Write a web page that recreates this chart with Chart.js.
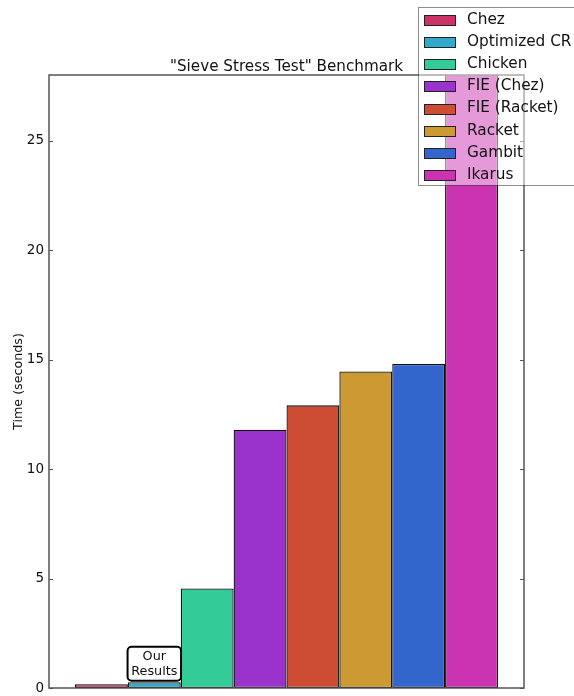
<!DOCTYPE html>
<html>
<head>
<meta charset="utf-8">
<title>Sieve Stress Test Benchmark</title>
<script src="https://cdn.jsdelivr.net/npm/chart.js@4.4.1/dist/chart.umd.min.js"></script>
<style>
  html, body { margin: 0; padding: 0; background: #fff; }
  canvas { display: block; }
</style>
</head>
<body>
<canvas id="sieveChart" width="574" height="696"></canvas>
<script>
// implementations, in bar order
const systems = ['Chez', 'Optimized CR', 'Chicken', 'FIE (Chez)', 'FIE (Racket)', 'Racket', 'Gambit', 'Ikarus'];
// run time in seconds (Ikarus runs past the top of the axis)
const times = [0.17, 0.26, 4.55, 11.8, 12.91, 14.46, 14.8, 28.5];
const colors = ['#cc3366', '#33aacc', '#33cc99', '#9933cc', '#cc4d33', '#cc9933', '#3366cc', '#cc33b3'];
const yTicks = [0, 5, 10, 15, 20, 25];
const yMax = 28;
const chartTitle = '"Sieve Stress Test" Benchmark';
const noteLines = ['Our', 'Results'];
const noteIndex = 1; // bar the note sits on

const FONT = 'DejaVu Sans';

// matplotlib-ish frame with inward ticks, title over the axes, and the note box
const framePlugin = {
    id: 'frame',
    afterDatasetsDraw(chart) {
        const ctx = chart.ctx;
        const a = chart.chartArea;
        const y = chart.scales.y;
        ctx.save();
        ctx.strokeStyle = '#555';
        ctx.lineWidth = 1.5;
        ctx.strokeRect(a.left, a.top, a.right - a.left, a.bottom - a.top);
        ctx.lineWidth = 1;
        y.ticks.forEach(t => {
            const py = Math.round(y.getPixelForValue(t.value)) + 0.5;
            ctx.beginPath();
            ctx.moveTo(a.left, py); ctx.lineTo(a.left + 4, py);
            ctx.moveTo(a.right, py); ctx.lineTo(a.right - 4, py);
            ctx.stroke();
        });

        ctx.fillStyle = '#111';
        ctx.font = '15.2px "' + FONT + '"';
        ctx.textAlign = 'center';
        ctx.textBaseline = 'alphabetic';
        ctx.fillText(chartTitle, (a.left + a.right) / 2, a.top - 4.5);

        // "Our Results" box above its bar
        const bar = chart.getDatasetMeta(noteIndex).data[0];
        const w = 53.5, h = 34;
        const bottom = bar.y - 1.5;
        const x0 = bar.x - w / 2, y0 = bottom - h;
        ctx.beginPath();
        ctx.roundRect(x0, y0, w, h, 4);
        ctx.fillStyle = '#fff';
        ctx.fill();
        ctx.lineWidth = 2;
        ctx.strokeStyle = '#000';
        ctx.stroke();
        ctx.fillStyle = '#111';
        ctx.font = '12.8px "' + FONT + '"';
        ctx.textBaseline = 'middle';
        ctx.fillText(noteLines[0], bar.x, y0 + 10);
        ctx.fillText(noteLines[1], bar.x, y0 + 25);
        ctx.restore();
    },
    afterDraw(chart) {
        // legend box hanging off the right edge, half transparent
        const ctx = chart.ctx;
        ctx.save();
        ctx.fillStyle = 'rgba(255,255,255,0.5)';
        ctx.strokeStyle = 'rgba(0,0,0,0.45)';
        ctx.lineWidth = 1;
        ctx.fillRect(418.5, 7.5, 200, 178);
        ctx.strokeRect(418.5, 7.5, 200, 178);
        ctx.font = '15.3px "' + FONT + '"';
        ctx.textAlign = 'left';
        ctx.textBaseline = 'middle';
        chart.data.datasets.forEach((ds, i) => {
            const cy = 19.7 + i * 22.2;
            ctx.fillStyle = ds.backgroundColor;
            ctx.fillRect(424.5, Math.round(cy - 5) + 0.5, 31, 10);
            ctx.strokeStyle = '#222';
            ctx.strokeRect(424.5, Math.round(cy - 5) + 0.5, 31, 10);
            ctx.fillStyle = '#111';
            ctx.fillText(ds.label, 467, cy);
        });
        ctx.restore();
    }
};

document.addEventListener("DOMContentLoaded", function () {
    const ctx = document.getElementById('sieveChart').getContext('2d');
    const chart = new Chart(ctx, {
        type: 'bar',
        data: {
            labels: [''],
            datasets: systems.map((name, i) => ({
                label: name,
                data: [times[i]],
                backgroundColor: colors[i],
                borderColor: '#111',
                borderWidth: 1.3,
                borderSkipped: false,
                categoryPercentage: 0.8905,
                barPercentage: 1
            }))
        },
        options: {
            responsive: false,
            devicePixelRatio: 1,
            animation: false,
            layout: { padding: { left: 0, right: 50, top: 75, bottom: 0 } },
            scales: {
                x: {
                    ticks: { display: false },
                    grid: { display: false },
                    border: { display: false },
                    afterFit: s => { s.height = 8; s.paddingLeft = 0; s.paddingRight = 0; }
                },
                y: {
                    min: 0,
                    max: yMax,
                    afterBuildTicks: s => { s.ticks = yTicks.map(v => ({ value: v })); },
                    ticks: {
                        color: '#111',
                        font: { family: FONT, size: 13.5 },
                        padding: 5
                    },
                    grid: { display: false, drawTicks: false },
                    border: { display: false },
                    title: {
                        display: true,
                        text: 'Time (seconds)',
                        color: '#111',
                        font: { family: FONT, size: 12.7 },
                        padding: { top: 11, bottom: 0 }
                    },
                    afterFit: s => { s.width = 49; s.paddingTop = 0; s.paddingBottom = 0; }
                }
            },
            plugins: {
                legend: { display: false },
                tooltip: { enabled: false },
                title: { display: false }
            }
        },
        plugins: [framePlugin]
    });
});
</script>
</body>
</html>
